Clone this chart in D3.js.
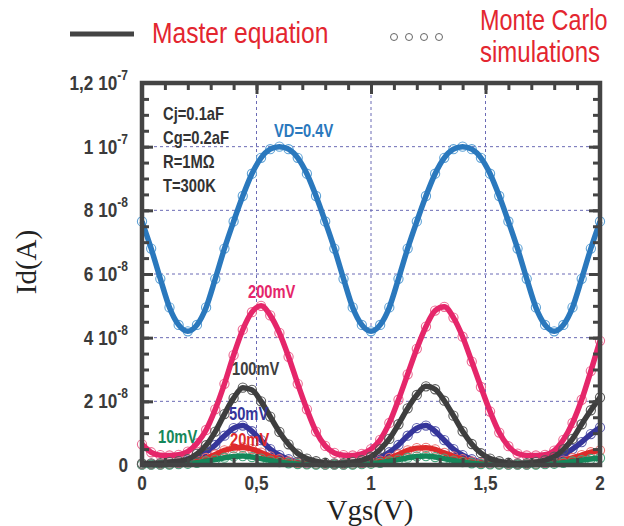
<!DOCTYPE html>
<html>
<head>
<meta charset="utf-8">
<script src="https://cdn.jsdelivr.net/npm/d3@7"></script>
<style>
  body { margin: 0; background: #fff; }
  .narrow { font-family: 'Liberation Sans', Arial, sans-serif; }
</style>
</head>
<body>
<div id="chart"></div>
<script>
// Vgs sample points (V)
var vgs = [0, 0.04, 0.08, 0.12, 0.16, 0.2, 0.24, 0.28, 0.32, 0.36, 0.4,
  0.44, 0.48, 0.52, 0.56, 0.6, 0.64, 0.68, 0.72, 0.76, 0.8,
  0.84, 0.88, 0.92, 0.96, 1.0, 1.04, 1.08, 1.12, 1.16, 1.2,
  1.24, 1.28, 1.32, 1.36, 1.4, 1.44, 1.48, 1.52, 1.56, 1.6,
  1.64, 1.68, 1.72, 1.76, 1.8, 1.84, 1.88, 1.92, 1.96, 2.0];

// Id values in units of 1e-8 A
var id400mV = [7.65, 6.8, 5.85, 4.95, 4.4, 4.2, 4.4, 4.95, 5.85, 6.8, 7.65,
  8.45, 9.15, 9.65, 9.92, 10.0, 9.92, 9.65, 9.15, 8.45, 7.65,
  6.8, 5.85, 4.95, 4.4, 4.2, 4.4, 4.95, 5.85, 6.8, 7.65,
  8.45, 9.15, 9.65, 9.92, 10.0, 9.92, 9.65, 9.15, 8.45, 7.65,
  6.8, 5.85, 4.95, 4.4, 4.2, 4.4, 4.95, 5.85, 6.8, 7.65];
var id200mV = [0.65, 0.4, 0.31, 0.3, 0.32, 0.42, 0.68, 1.1, 1.75, 2.55, 3.45,
  4.25, 4.8, 5.0, 4.7, 4.15, 3.4, 2.55, 1.75, 1.05, 0.6,
  0.38, 0.31, 0.3, 0.35, 0.5, 0.79, 1.32, 2.05, 2.85, 3.65,
  4.35, 4.85, 4.97, 4.63, 4.03, 3.25, 2.45, 1.68, 1.02, 0.59,
  0.36, 0.3, 0.3, 0.32, 0.45, 0.79, 1.32, 2.05, 2.95, 3.9];
var id100mV = [0.05, 0.05, 0.06, 0.09, 0.12, 0.18, 0.35, 0.62, 1.05, 1.6, 2.1,
  2.43, 2.36, 2.0, 1.52, 1.04, 0.65, 0.36, 0.2, 0.12, 0.07,
  0.05, 0.06, 0.09, 0.15, 0.26, 0.49, 0.82, 1.28, 1.78, 2.2,
  2.47, 2.38, 2.02, 1.55, 1.06, 0.66, 0.37, 0.2, 0.12, 0.07,
  0.05, 0.06, 0.09, 0.15, 0.26, 0.49, 0.82, 1.28, 1.72, 2.12];
var id50mV = [0.02, 0.02, 0.02, 0.03, 0.06, 0.13, 0.24, 0.4, 0.63, 0.92, 1.16,
  1.24, 1.06, 0.78, 0.5, 0.31, 0.18, 0.09, 0.05, 0.03, 0.02,
  0.02, 0.02, 0.03, 0.06, 0.13, 0.24, 0.4, 0.63, 0.92, 1.16,
  1.24, 1.06, 0.78, 0.5, 0.31, 0.18, 0.09, 0.05, 0.03, 0.02,
  0.02, 0.02, 0.03, 0.06, 0.13, 0.3, 0.5, 0.72, 0.97, 1.18];
var id20mV = [0.02, 0.02, 0.02, 0.03, 0.05, 0.08, 0.14, 0.22, 0.33, 0.46, 0.53,
  0.55, 0.5, 0.39, 0.27, 0.18, 0.11, 0.06, 0.04, 0.03, 0.02,
  0.02, 0.02, 0.03, 0.05, 0.08, 0.14, 0.22, 0.33, 0.46, 0.53,
  0.54, 0.49, 0.38, 0.27, 0.18, 0.11, 0.06, 0.04, 0.03, 0.02,
  0.02, 0.02, 0.03, 0.05, 0.08, 0.14, 0.22, 0.31, 0.4, 0.46];
var id10mV = [0.01, 0.01, 0.01, 0.015, 0.025, 0.04, 0.07, 0.12, 0.17, 0.23, 0.27,
  0.28, 0.25, 0.2, 0.14, 0.09, 0.055, 0.03, 0.02, 0.015, 0.01,
  0.01, 0.01, 0.015, 0.025, 0.04, 0.07, 0.12, 0.17, 0.23, 0.27,
  0.28, 0.25, 0.2, 0.14, 0.09, 0.055, 0.03, 0.02, 0.015, 0.01,
  0.01, 0.01, 0.015, 0.025, 0.04, 0.07, 0.11, 0.15, 0.19, 0.22];

// tick labels
var xTickValues = [0, 0.5, 1, 1.5, 2];
var xTickLabels = ["0", "0,5", "1", "1,5", "2"];
var yTickValues = [0, 2, 4, 6, 8, 10, 12];
var yTickMant = ["0", "2 10", "4 10", "6 10", "8 10", "1 10", "1,2 10"];
var yTickExp = ["", "-8", "-8", "-8", "-8", "-7", "-7"];
var paramLines = ["Cj=0.1aF", "Cg=0.2aF", "R=1M\u03A9", "T=300K"];

// series drawn in this order
var series = [
  {name: "VD=0.4V", values: id400mV, line: "#2a78bd", dot: "#5ea2d6"},
  {name: "200mV", values: id200mV, line: "#e5266a", dot: "#ec6a92"},
  {name: "50mV", values: id50mV, line: "#35359a", dot: "#6262b0"},
  {name: "20mV", values: id20mV, line: "#de2b2b", dot: "#ea7070"},
  {name: "10mV", values: id10mV, line: "#15875a", dot: "#4aa57f"},
  {name: "100mV", values: id100mV, line: "#3e3e3e", dot: "#5a5a5a"}
];

var svgWidth = 624, svgHeight = 526;
var plot = {left: 142, right: 600, top: 83, bottom: 465};
var squeeze = 0.84;  // horizontal squeeze to mimic a narrow face

var svg = d3.select("#chart").append("svg")
  .attr("width", svgWidth)
  .attr("height", svgHeight);

// text placed at (px,py) and squeezed horizontally
function narrowText(parent, px, py, str, sx) {
  return parent.append("text")
    .attr("class", "narrow")
    .attr("transform", `translate(${px},${py}) scale(${sx || squeeze},1)`)
    .text(str);
}

var x = d3.scaleLinear().domain([0, 2]).range([plot.left, plot.right]);
var y = d3.scaleLinear().domain([0, 12]).range([plot.bottom, plot.top]);

// dashed grid
var grid = svg.append("g")
  .attr("stroke", "#6b6bb5")
  .attr("stroke-width", 1)
  .attr("stroke-dasharray", "3,3");
grid.selectAll("line.h").data([2, 4, 6, 8, 10]).enter().append("line")
  .attr("x1", plot.left).attr("x2", plot.right)
  .attr("y1", d => y(d)).attr("y2", d => y(d));
grid.selectAll("line.v").data([0.5, 1, 1.5]).enter().append("line")
  .attr("y1", plot.top).attr("y2", plot.bottom)
  .attr("x1", d => x(d)).attr("x2", d => x(d));

// curves + Monte Carlo circles
var line = d3.line()
  .x((d, i) => x(vgs[i]))
  .y(d => y(d))
  .curve(d3.curveMonotoneX);

series.forEach(function(s) {
  var g = svg.append("g");
  g.selectAll("circle").data(s.values).enter().append("circle")
    .attr("cx", (d, i) => x(vgs[i]))
    .attr("cy", d => y(d))
    .attr("r", 4.6)
    .attr("fill", "none")
    .attr("stroke", s.dot)
    .attr("stroke-width", 1.1);
  g.append("path")
    .attr("d", line(s.values))
    .attr("fill", "none")
    .attr("stroke", s.line)
    .attr("stroke-width", 5.5)
    .attr("stroke-linejoin", "round");
});

// ticks on all four sides, pointing inward
var frameColor = "#444";
var xMinor = d3.range(0, 2.001, 0.1);
var yMinor = d3.range(0, 12.001, 0.5);
function styleAxis(g) {
  g.select(".domain").remove();
  g.selectAll(".tick line").attr("stroke", frameColor).attr("stroke-width", 3);
  g.selectAll(".tick text").remove();
}
svg.append("g").attr("transform", `translate(0,${plot.bottom})`)
  .call(d3.axisBottom(x).tickValues(xMinor).tickSize(-7)).call(styleAxis);
svg.append("g").attr("transform", `translate(0,${plot.top})`)
  .call(d3.axisTop(x).tickValues(xMinor).tickSize(-7)).call(styleAxis);
svg.append("g").attr("transform", `translate(0,${plot.bottom})`)
  .call(d3.axisBottom(x).tickValues(xTickValues).tickSize(-11)).call(styleAxis);
svg.append("g").attr("transform", `translate(0,${plot.top})`)
  .call(d3.axisTop(x).tickValues(xTickValues).tickSize(-11)).call(styleAxis);
svg.append("g").attr("transform", `translate(${plot.left},0)`)
  .call(d3.axisLeft(y).tickValues(yMinor).tickSize(-7)).call(styleAxis);
svg.append("g").attr("transform", `translate(${plot.right},0)`)
  .call(d3.axisRight(y).tickValues(yMinor).tickSize(-7)).call(styleAxis);
svg.append("g").attr("transform", `translate(${plot.left},0)`)
  .call(d3.axisLeft(y).tickValues(yTickValues).tickSize(-11)).call(styleAxis);
svg.append("g").attr("transform", `translate(${plot.right},0)`)
  .call(d3.axisRight(y).tickValues(yTickValues).tickSize(-11)).call(styleAxis);

// frame
svg.append("rect")
  .attr("x", plot.left).attr("y", plot.top)
  .attr("width", plot.right - plot.left).attr("height", plot.bottom - plot.top)
  .attr("fill", "none")
  .attr("stroke", frameColor)
  .attr("stroke-width", 4.5);

// y tick labels with exponent
var yLab = svg.append("g")
  .attr("font-size", 20).attr("font-weight", "bold").attr("fill", "#3a3a3a");
yTickValues.forEach(function(v, i) {
  var t = narrowText(yLab, 128, y(v) + 7, null, 0.86)
    .attr("text-anchor", "end");
  t.append("tspan").text(yTickMant[i]);
  if (yTickExp[i]) {
    t.append("tspan").attr("dy", -10).attr("font-size", 14).text(yTickExp[i]);
  }
});

// x tick labels
var xLab = svg.append("g")
  .attr("font-size", 20).attr("font-weight", "bold").attr("fill", "#3a3a3a")
  .attr("text-anchor", "middle");
xTickValues.forEach(function(v, i) {
  narrowText(xLab, x(v), 490, xTickLabels[i], 0.86);
});

// axis titles
svg.append("text")
  .attr("x", 370).attr("y", 520)
  .attr("text-anchor", "middle")
  .attr("font-family", "'Liberation Serif', 'Times New Roman', serif")
  .attr("font-size", 29)
  .attr("fill", "#222")
  .text("Vgs(V)");
svg.append("text")
  .attr("transform", "translate(36,262) rotate(-90)")
  .attr("text-anchor", "middle")
  .attr("font-family", "'Liberation Serif', 'Times New Roman', serif")
  .attr("font-size", 29)
  .attr("fill", "#222")
  .text("Id(A)");

// parameter block
var params = svg.append("g")
  .attr("font-size", 18).attr("font-weight", "bold").attr("fill", "#333");
paramLines.forEach(function(p, i) {
  narrowText(params, 163, 120 + i * 24, p, 0.82);
});

// curve labels
var curveLabels = [
  {text: "VD=0.4V", x: 274, y: 137, color: "#2a78bd"},
  {text: "200mV", x: 248, y: 298, color: "#e5266a"},
  {text: "100mV", x: 232, y: 375, color: "#3e3e3e"},
  {text: "50mV", x: 229, y: 420, color: "#35359a"},
  {text: "20mV", x: 230, y: 446, color: "#de2b2b"},
  {text: "10mV", x: 158, y: 443, color: "#15875a"}
];
var cl = svg.append("g").attr("font-size", 17.5).attr("font-weight", "bold");
curveLabels.forEach(function(d) {
  narrowText(cl, d.x, d.y, d.text).attr("fill", d.color);
});

// legend
svg.append("line")
  .attr("x1", 70).attr("x2", 134).attr("y1", 34).attr("y2", 34)
  .attr("stroke", "#444").attr("stroke-width", 5);
var leg = svg.append("g").attr("font-size", 30).attr("fill", "#e3262f");
narrowText(leg, 152, 43, "Master equation", 0.82);
svg.append("g").selectAll("circle").data([0, 1, 2, 3]).enter().append("circle")
  .attr("cx", d => 394 + d * 15).attr("cy", 37).attr("r", 3.5)
  .attr("fill", "none").attr("stroke", "#666").attr("stroke-width", 1);
narrowText(leg, 480, 30, "Monte Carlo", 0.78);
narrowText(leg, 480, 62, "simulations", 0.8);
</script>
</body>
</html>
